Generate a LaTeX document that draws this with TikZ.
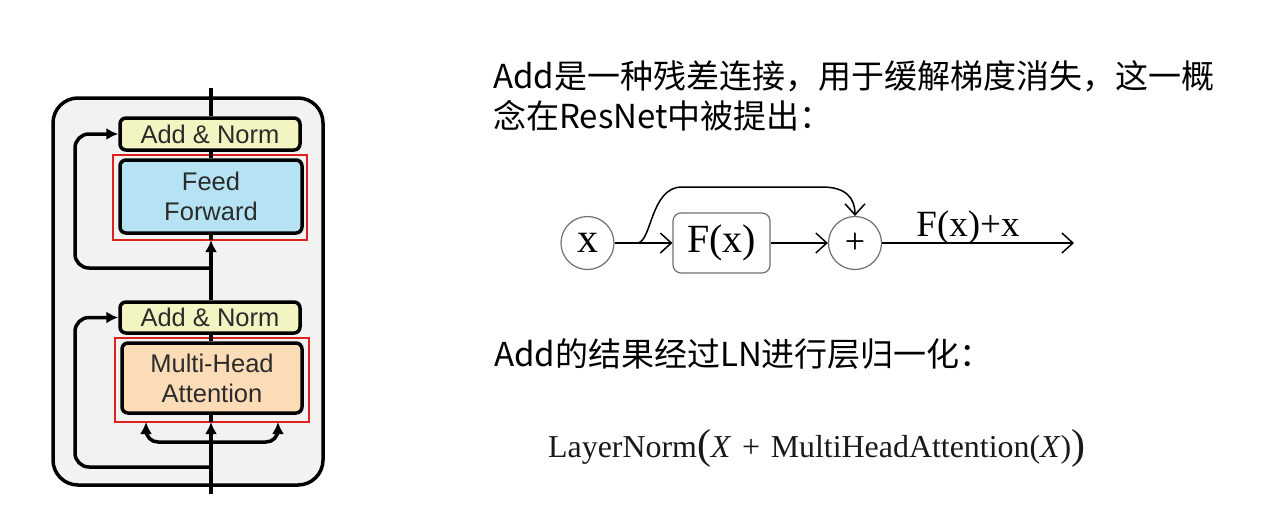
\documentclass[tikz,border=0pt]{standalone}
\usepackage{fontspec}
\usepackage{graphicx}
\usetikzlibrary{arrows.meta}
\newfontfamily\cjkfont{Noto Sans CJK SC}
\newfontfamily\helvfont{Liberation Sans}
\newfontfamily\timesfont{Liberation Serif}
\definecolor{outerfill}{HTML}{F2F2F2}
\definecolor{anfill}{HTML}{F2F4C2}
\definecolor{fffill}{HTML}{B5E3F4}
\definecolor{mhafill}{HTML}{FCDCB6}
\definecolor{boxtext}{HTML}{2B2B2B}
\definecolor{redline}{HTML}{E0201F}
\definecolor{circline}{HTML}{707070}
\newcommand{\bigparen}[1]{{\fontsize{42}{42}\selectfont\raisebox{-1.5pt}{#1}}}
\tikzset{
  outerbox/.style={draw=black, line width=3.5pt, fill=outerfill, rounded corners=25pt, inner sep=0pt},
  blockbox/.style={draw=black, line width=3.5pt, rounded corners=6pt, inner sep=0pt, text=boxtext,
     font=\helvfont\fontsize{25.5}{30}\selectfont, align=center},
  redbox/.style={draw=redline, line width=1.4pt, inner sep=0pt},
  lk/.style={draw=black, line width=3.5pt},
  lkarr/.style={lk, -{Latex[length=12pt,width=12pt]}},
  circnode/.style={circle, draw=circline, line width=1.2pt, minimum size=53pt, inner sep=0pt},
  fnode/.style={draw=circline, line width=1.2pt, rounded corners=8pt, minimum width=97pt, minimum height=60pt, inner sep=0pt},
  rl/.style={draw=black, line width=1.5pt},
  rarr/.style={rl, -{Straight Barb[length=11pt,width=20pt]}},
  cjktext/.style={anchor=base west, inner sep=0pt, font=\cjkfont\fontsize{33}{40}\selectfont}
}
\begin{document}
\begin{tikzpicture}[x=1pt,y=-1pt]
\useasboundingbox[fill=white] (0,0) rectangle (1276,514);

% ---------- left: transformer block ----------
\node[outerbox, minimum width=270pt, minimum height=387pt] (outer) at (188,291.5) {};

\node[redbox, minimum width=194pt, minimum height=85pt] (red1) at (210,197.5) {};
\node[redbox, minimum width=194pt, minimum height=84pt] (red2) at (212,380) {};

\node[blockbox, fill=anfill, minimum width=180pt, minimum height=32pt] (an1) at (210,134) {Add \& Norm};
\node[blockbox, fill=fffill, minimum width=182pt, minimum height=73pt] (ff) at (211,196.5) {Feed\\Forward};
\node[blockbox, fill=anfill, minimum width=180pt, minimum height=31pt] (an2) at (210,317.5) {Add \& Norm};
\node[blockbox, fill=mhafill, minimum width=180pt, minimum height=70pt] (mha) at (212,378) {Multi-Head\\Attention};

\coordinate (top) at (211,88);
\coordinate (bot) at (211,494);
\coordinate (j1) at (211,268);
\coordinate (j2) at (211,467);
\coordinate (j3) at (211,442);
\coordinate (ml) at (146,422);
\coordinate (mr) at (278,422);
\coordinate (fin) at (211,240);
\coordinate (min) at (211,422);

\draw[lk] (top) -- (an1.north -| top);
\draw[lk] (an1.south -| top) -- (ff.north -| top);
\draw[lkarr] (an2.north -| top) -- (fin);
\draw[lk] (fin) -- (ff.south -| top);
\draw[lk] (an2.south -| top) -- (mha.north -| top);
\draw[lkarr] (bot) -- (min);
\draw[lk] (min) -- (mha.south -| top);

\draw[lkarr, rounded corners=14pt] (j1) -- ++(-136,0) |- (an1.west);
\draw[lkarr, rounded corners=14pt] (j2) -- ++(-136,0) |- (an2.west);
\draw[lkarr, rounded corners=12pt] (j3) -| (ml);
\draw[lkarr, rounded corners=12pt] (j3) -| (mr);

% ---------- right: texts ----------
\node[cjktext] (t1) at (493,88) {Add是一种残差连接，用于缓解梯度消失，这一概};
\node[cjktext] (t2) at (493,128) {念在ResNet中被提出：};
\node[cjktext] (t3) at (494,366) {Add的结果经过LN进行层归一化：};

% ---------- residual diagram ----------
\node[circnode, font=\timesfont\fontsize{42}{42}\selectfont] (x) at (587.5,243) {x};
\node[fnode, font=\timesfont\fontsize{40}{40}\selectfont] (f) at (721.5,243) {F(x)};
\node[circnode, font=\timesfont\fontsize{36}{36}\selectfont] (p) at (855,243) {+};
\coordinate (c0) at (637,243);
\coordinate (out) at (1074,243);

\draw[rarr] (x) -- (f);
\draw[rarr] (f) -- (p);
\draw[rarr] (p) -- (out);
\draw[rarr] (c0) .. controls (652,243) and (650,187) .. (682,187) -- (822,187) .. controls (846,187) and (855,198) .. (p.north);
\node[anchor=base, inner sep=0pt, font=\timesfont\fontsize{37}{37}\selectfont] (lbl) at (968,236) {F(x)+x};

% ---------- formula ----------
\node[anchor=base west, inner sep=0pt, text=black!90] (fm) at (548,457)
  {\resizebox{537pt}{!}{\timesfont\fontsize{32}{32}\selectfont LayerNorm\bigparen{(}\textit{X}\,\,+\,\,MultiHeadAttention(\textit{X})\bigparen{)}}};
\end{tikzpicture}
\end{document}
